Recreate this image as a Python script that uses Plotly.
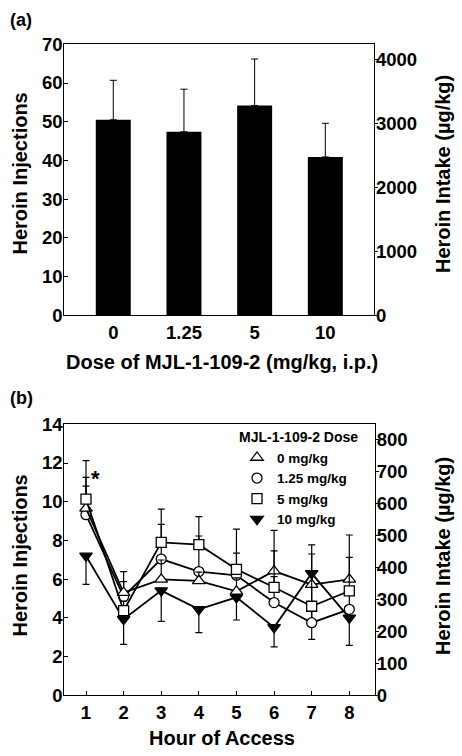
import plotly.graph_objects as go

# ---------------- Panel (a) data ----------------
dose_labels = ["0", "1.25", "5", "10"]
total_injections = [50.5, 47.4, 54.2, 40.9]
total_sem = [10.2, 11.0, 12.0, 8.7]

# ---------------- Panel (b) data ----------------
hours = [1, 2, 3, 4, 5, 6, 7, 8]
inj_0 = [9.66, 5.30, 5.99, 5.91, 5.37, 6.42, 5.72, 5.99]
inj_125 = [9.33, 5.10, 7.04, 6.39, 6.20, 4.79, 3.75, 4.44]
inj_5 = [10.13, 4.37, 7.90, 7.78, 6.51, 5.58, 4.60, 5.39]
inj_10 = [7.20, 3.93, 5.41, 4.44, 5.06, 3.51, 6.30, 4.00]
sem_0_up = [1.60, 1.09, 1.00, 0.45, 0.70, 2.10, 2.05, 2.29]
sem_125_up = [1.48, 0.77, 1.79, 1.84, 1.14, 1.34, 0.80, 0.90]
sem_5_up = [1.99, 0.50, 1.72, 1.45, 2.07, 1.88, 2.70, 1.74]
sem_10_down = [1.47, 1.30, 1.59, 1.20, 1.17, 1.01, 3.41, 1.42]
zeros = [0] * 8

FONT = "Liberation Sans, Arial, Helvetica, sans-serif"
W, H = 462, 756

def px_x(p):
    return p / W

def px_y(p):
    return (H - p) / H

fig = go.Figure()

# Panel (a) bars
fig.add_trace(go.Bar(
    x=dose_labels, y=total_injections, width=0.495,
    marker=dict(color="black", line=dict(width=0)),
    error_y=dict(type="data", symmetric=False, array=total_sem,
                 arrayminus=[0] * 4, color="black", thickness=1, width=3.5),
    xaxis="x", yaxis="y", showlegend=False,
))
# empty trace so the right-hand axis of (a) is drawn
fig.add_trace(go.Scatter(x=dose_labels, y=[None] * 4, mode="markers",
                         xaxis="x", yaxis="y2", showlegend=False,
                         hoverinfo="skip"))

# Panel (b) lines (drawing order: 10, 1.25, 0, 5)
series = [
    ("10 mg/kg", inj_10, zeros, sem_10_down, "triangle-down", "black", 11, 4),
    ("1.25 mg/kg", inj_125, sem_125_up, zeros, "circle", "white", 10, 2),
    ("0 mg/kg", inj_0, sem_0_up, zeros, "triangle-up", "white", 11, 1),
    ("5 mg/kg", inj_5, sem_5_up, zeros, "square", "white", 10, 3),
]
for name, vals, up, down, sym, fill, size, rank in series:
    fig.add_trace(go.Scatter(
        x=hours, y=vals, name=name, mode="lines+markers",
        line=dict(color="black", width=1.8),
        marker=dict(symbol=sym, size=size, color=fill,
                    line=dict(color="black", width=1.3)),
        error_y=dict(type="data", symmetric=False, array=up, arrayminus=down,
                     color="black", thickness=1.2, width=3.5),
        xaxis="x2", yaxis="y3", legendrank=rank, showlegend=False,
    ))
    # legend-only marker entry
    fig.add_trace(go.Scatter(
        x=[None], y=[None], name=name, mode="markers",
        marker=dict(symbol=sym, size=size, color=fill,
                    line=dict(color="black", width=1.3)),
        xaxis="x2", yaxis="y3", legendrank=rank, showlegend=True,
    ))
# empty trace so the right-hand axis of (b) is drawn
fig.add_trace(go.Scatter(x=hours, y=[None] * 8, mode="markers",
                         xaxis="x2", yaxis="y4", showlegend=False,
                         hoverinfo="skip"))

tickfont = dict(family=FONT, size=18.5, color="black", weight="bold")
common_axis = dict(showgrid=False, zeroline=False, linecolor="black",
                   linewidth=1, tickfont=tickfont, tickcolor="black",
                   automargin=False)
left_axis = dict(showline=True, mirror=True, ticks="inside", ticklen=4,
                 ticklabelstandoff=-3, **common_axis)
right_axis = dict(showline=False, ticks="outside", ticklen=3,
                  ticklabelstandoff=-6, **common_axis)

xa_dom = [px_x(64.3), px_x(374.3)]
xb_dom = [px_x(64.3), px_x(375)]

fig.update_layout(
    width=W, height=H, margin=dict(l=0, r=0, t=0, b=0, pad=0),
    paper_bgcolor="white", plot_bgcolor="white",
    font=dict(family=FONT, color="black"),
    xaxis=dict(domain=xa_dom, anchor="y", type="category",
               range=[-0.693, 3.693], showline=True, mirror=True,
               ticks="", ticklen=0, **common_axis),
    yaxis=dict(domain=[px_y(315.3), px_y(44.3)], anchor="x", range=[0, 70],
               dtick=10, **left_axis),
    yaxis2=dict(overlaying="y", side="right", anchor="x", range=[0, 4234],
                tickvals=[0, 1000, 2000, 3000, 4000], **right_axis),
    xaxis2=dict(domain=xb_dom, anchor="y3", range=[0.423, 8.683],
                tickvals=hours, showline=True, mirror=True,
                ticks="inside", ticklen=4, **common_axis),
    yaxis3=dict(domain=[px_y(695.3), px_y(424.3)], anchor="x2", range=[0, 14],
                dtick=2, **left_axis),
    yaxis4=dict(overlaying="y3", side="right", anchor="x2", range=[0, 847],
                dtick=100, **right_axis),
    legend=dict(x=px_x(237), y=px_y(424), xanchor="left", yanchor="top",
                bgcolor="rgba(0,0,0,0)",
                font=dict(family=FONT, size=13.5, color="black", weight="bold"),
                title=dict(text="MJL-1-109-2 Dose",
                           font=dict(family=FONT, size=14, color="black",
                                     weight="bold")),
                itemwidth=30, tracegroupgap=0),
)

title_font = dict(family=FONT, size=20, color="black", weight="bold")
label_font = dict(family=FONT, size=18, color="black", weight="bold")
annotations = [
    dict(text="(a)", x=px_x(8), y=px_y(20), xanchor="left", yanchor="middle",
         font=label_font),
    dict(text="(b)", x=px_x(8), y=px_y(398), xanchor="left", yanchor="middle",
         font=label_font),
    dict(text="Heroin Injections", x=px_x(19.5), y=px_y(174), textangle=-90,
         xanchor="center", yanchor="middle", font=title_font),
    dict(text="Heroin Intake (µg/kg)", x=px_x(443), y=px_y(174), textangle=-90,
         xanchor="center", yanchor="middle", font=title_font),
    dict(text="Dose of MJL-1-109-2 (mg/kg, i.p.)", x=px_x(222), y=px_y(362),
         xanchor="center", yanchor="middle", font=title_font),
    dict(text="Heroin Injections", x=px_x(19.5), y=px_y(556), textangle=-90,
         xanchor="center", yanchor="middle", font=title_font),
    dict(text="Heroin Intake (µg/kg)", x=px_x(443), y=px_y(556), textangle=-90,
         xanchor="center", yanchor="middle", font=title_font),
    dict(text="Hour of Access", x=px_x(221.7), y=px_y(738),
         xanchor="center", yanchor="middle", font=title_font),
]
for a in annotations:
    a.update(xref="paper", yref="paper", showarrow=False)
fig.update_layout(annotations=annotations)
fig.add_annotation(text="*", x=1.24, y=11.4, xref="x2", yref="y3",
                   showarrow=False, yshift=-4,
                   font=dict(family=FONT, size=22, color="black", weight="bold"))

post = (
    "document.documentElement.style.margin='0px';"
    "document.documentElement.style.padding='0px';"
    "document.documentElement.style.overflow='hidden';"
    "document.body.style.margin='0px';"
    "document.body.style.padding='0px';"
    "document.body.style.overflow='hidden';"
    "var gd=document.getElementById('{plot_id}');"
    "gd.style.position='absolute';gd.style.left='0px';gd.style.top='0px';"
)
fig.write_html("out.html", config={"displayModeBar": False}, post_script=post)
